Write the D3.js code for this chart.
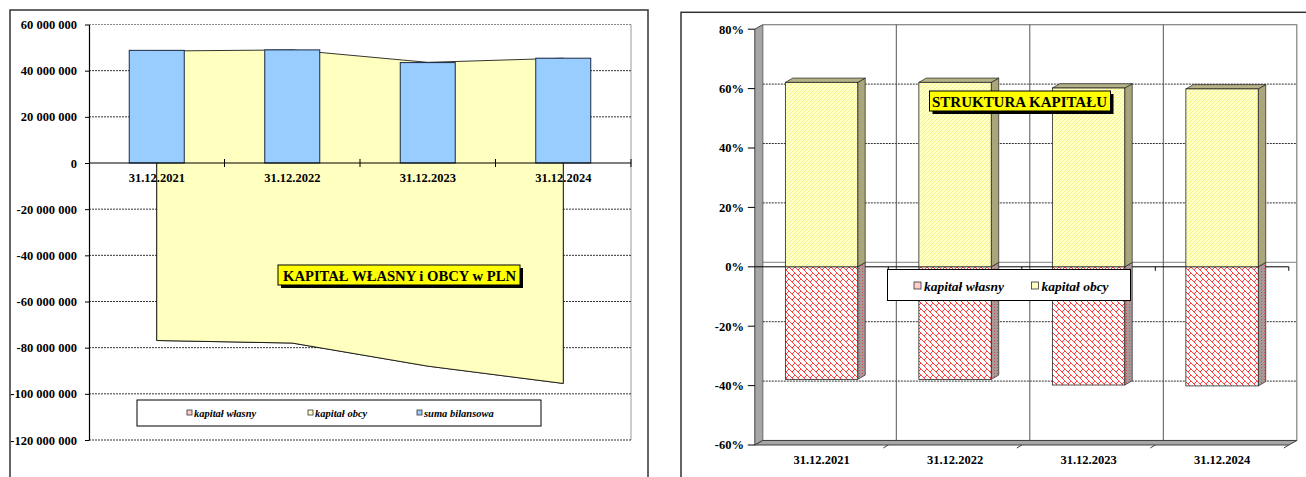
<!DOCTYPE html>
<html lang="pl">
<head>
<meta charset="utf-8">
<title>Kapitał własny i obcy</title>
<script src="https://cdn.jsdelivr.net/npm/d3@7"></script>
<style>
  html, body { margin: 0; padding: 0; background: #fff; }
  svg { display: block; }
  svg text { font-family: "Liberation Serif", "Times New Roman", "DejaVu Serif", serif !important; }
  .lbl { font-weight: bold; fill: #000; }
</style>
</head>
<body>
<svg id="chart" width="1306" height="477"></svg>
<script>
// dane (PLN)
const categories = ["31.12.2021", "31.12.2022", "31.12.2023", "31.12.2024"];
const kapitalWlasny = [-76900000, -78000000, -88000000, -95500000];
const kapitalObcy = [125400000, 127000000, 131600000, 140900000];
const sumaBilansowa = [48800000, 49000000, 43500000, 45400000];
const leftTicks = [60e6, 40e6, 20e6, 0, -20e6, -40e6, -60e6, -80e6, -100e6, -120e6];

// struktura kapitału (%)
const udzialWlasny = [-37.9, -37.9, -39.8, -40.1];
const udzialObcy = [62.1, 62.1, 60.2, 59.9];
const pctTicks = [80, 60, 40, 20, 0, -20, -40, -60];

const SERIF = '"Liberation Serif", "Times New Roman", serif';
const svg = d3.select('#chart');
const fmt = d3.formatLocale({ decimal: ',', thousands: ' ', grouping: [3], currency: ['', ''], minus: '-' }).format(',d');

// wzory wypełnień
const defs = svg.append('defs');
const hatch = defs.append('pattern').attr('id', 'hatchYellow')
  .attr('patternUnits', 'userSpaceOnUse').attr('width', 4).attr('height', 4);
hatch.append('rect').attr('width', 4).attr('height', 4).attr('fill', '#ffffc8');
hatch.append('path').attr('d', 'M-1,1 l2,-2 M0,4 l4,-4 M3,5 l2,-2')
  .attr('stroke', '#f4f488').attr('stroke-width', 1);

const brick = defs.append('pattern').attr('id', 'brickRed')
  .attr('patternUnits', 'userSpaceOnUse').attr('width', 6).attr('height', 6);
brick.append('rect').attr('width', 6).attr('height', 6).attr('fill', '#fff');
brick.append('path').attr('d', 'M0,0 L6,6 M3,3 L0,6 M-1,5 L1,7 M5,-1 L7,1')
  .attr('stroke', '#ff2a2a').attr('stroke-width', 0.9).attr('fill', 'none');

const speckle = defs.append('pattern').attr('id', 'speckle')
  .attr('patternUnits', 'userSpaceOnUse').attr('width', 3).attr('height', 3);
speckle.append('rect').attr('width', 3).attr('height', 3).attr('fill', '#a89898');
speckle.append('rect').attr('x', 1).attr('y', 1).attr('width', 1).attr('height', 1).attr('fill', '#d05050');

// ================= wykres lewy =================
svg.append('rect').attr('x', 10).attr('y', 10).attr('width', 638).attr('height', 480)
  .attr('fill', '#fff').attr('stroke', '#333').attr('stroke-width', 1.5);

const L = { left: 89, right: 631, top: 24.5, bottom: 440 };
const xL = d3.scaleBand().domain(categories).range([L.left, L.right]).paddingInner(0.594).paddingOuter(0.297);
const yL = d3.scaleLinear().domain([-120e6, 60e6]).range([L.bottom, L.top]);
const gL = svg.append('g');

gL.append('line').attr('x1', L.right).attr('x2', L.right).attr('y1', L.top).attr('y2', L.bottom)
  .attr('stroke', '#999');
gL.selectAll('line.grid').data(leftTicks.filter(t => t !== 0)).join('line')
  .attr('class', 'grid')
  .attr('x1', L.left).attr('x2', L.right)
  .attr('y1', d => yL(d)).attr('y2', d => yL(d))
  .attr('stroke', d => d === 60e6 ? '#888' : '#333').attr('stroke-dasharray', '2,1');

// pole skumulowane
const rows = categories.map((c, i) => ({ cat: c, wlasny: kapitalWlasny[i], obcy: kapitalObcy[i] }));
const stacked = d3.stack().keys(['wlasny', 'obcy'])(rows);
const cxL = d => xL(d.data.cat) + xL.bandwidth() / 2;
const area = d3.area().x(cxL).y0(d => yL(d[0])).y1(d => yL(d[1]));
gL.selectAll('path.area').data(stacked).join('path')
  .attr('class', 'area')
  .attr('d', area)
  .attr('fill', (d, i) => i ? '#ffffc0' : '#ffcccc')
  .attr('stroke', '#000').attr('stroke-width', 0.8);

// słupki suma bilansowa
gL.selectAll('rect.bar').data(sumaBilansowa).join('rect')
  .attr('class', 'bar')
  .attr('x', (d, i) => xL(categories[i]))
  .attr('width', xL.bandwidth())
  .attr('y', d => yL(d))
  .attr('height', d => yL(0) - yL(d))
  .attr('fill', '#99ccff').attr('stroke', '#1a2a44').attr('stroke-width', 1);

// osie
const yAxisL = d3.axisLeft(yL).tickValues(leftTicks).tickFormat(fmt).tickSize(4).tickSizeOuter(0).tickPadding(8);
const ya = gL.append('g').attr('transform', `translate(${L.left},0)`).call(yAxisL)
  .attr('font-family', SERIF).attr('font-size', null);
ya.select('.domain').attr('stroke', '#000').attr('stroke-width', 1.2);
ya.selectAll('text').attr('class', 'lbl').attr('font-size', '12.5px');

gL.append('line').attr('x1', L.left).attr('x2', L.right).attr('y1', yL(0)).attr('y2', yL(0))
  .attr('stroke', '#000').attr('stroke-width', 1.2);
gL.selectAll('line.xtick').data(categories).join('line')
  .attr('class', 'xtick')
  .attr('x1', (d, i) => L.left + xL.step() * (i + 1)).attr('x2', (d, i) => L.left + xL.step() * (i + 1))
  .attr('y1', yL(0) - 4).attr('y2', yL(0) + 4).attr('stroke', '#000');
gL.selectAll('text.xl').data(categories).join('text')
  .attr('class', 'lbl xl')
  .attr('x', d => xL(d) + xL.bandwidth() / 2).attr('y', yL(0) + 19)
  .attr('text-anchor', 'middle').attr('font-size', '12.5px').text(d => d);

// legenda lewa
const legL = gL.append('g');
legL.append('rect').attr('x', 137).attr('y', 400).attr('width', 404).attr('height', 26)
  .attr('fill', '#fff').attr('stroke', '#000').attr('stroke-width', 1);
const legLItems = [
  { name: 'kapitał własny', color: '#ffcccc', x: 187 },
  { name: 'kapitał obcy', color: '#ffffc0', x: 308 },
  { name: 'suma bilansowa', color: '#99ccff', x: 417 }
];
legL.selectAll('rect.sw').data(legLItems).join('rect')
  .attr('class', 'sw').attr('x', d => d.x).attr('y', 410).attr('width', 5).attr('height', 5)
  .attr('fill', d => d.color).attr('stroke', '#333').attr('stroke-width', 0.8);
legL.selectAll('text').data(legLItems).join('text')
  .attr('x', d => d.x + 7).attr('y', 417)
  .attr('font-weight', 'bold').attr('font-style', 'italic').attr('font-size', '10.5px')
  .text(d => d.name);

// tytuł lewy
const tL = gL.append('g');
tL.append('rect').attr('x', 281).attr('y', 268).attr('width', 242).attr('height', 20).attr('fill', '#000');
tL.append('rect').attr('x', 278).attr('y', 265).attr('width', 242).attr('height', 20)
  .attr('fill', '#ffff00').attr('stroke', '#000').attr('stroke-width', 1);
tL.append('text').attr('x', 283).attr('y', 280.5)
  .attr('font-weight', 'bold').attr('font-size', '14.5px')
  .attr('textLength', 233).attr('lengthAdjust', 'spacingAndGlyphs')
  .text('KAPITAŁ WŁASNY i OBCY w PLN');

// ================= wykres prawy =================
svg.append('rect').attr('x', 681).attr('y', 12.3).attr('width', 700).attr('height', 500)
  .attr('fill', '#fff').attr('stroke', '#333').attr('stroke-width', 1.5);

const R = { x0: 754.8, x1: 1288.8, dx: 8, dy: -4.5 };
const xR = d3.scaleBand().domain(categories).range([R.x0, R.x1]).paddingInner(0.458).paddingOuter(0.229);
const yR = d3.scaleLinear().domain([-60, 80]).range([445, 29.2]);
const gR = svg.append('g');
const pts = a => a.map(p => p.join(',')).join(' ');

// ściany
gR.append('polygon')
  .attr('points', pts([[R.x0, yR(80)], [R.x0 + R.dx, yR(80) + R.dy], [R.x0 + R.dx, yR(-60) + R.dy], [R.x0, yR(-60)]]))
  .attr('fill', '#a6a6a6').attr('stroke', '#404040').attr('stroke-width', 1);
gR.append('rect').attr('x', R.x0 + R.dx).attr('y', yR(80) + R.dy)
  .attr('width', R.x1 - R.x0).attr('height', yR(-60) - yR(80))
  .attr('fill', '#fff').attr('stroke', '#808080').attr('stroke-width', 1.2);
gR.selectAll('line.grid').data(pctTicks.filter(t => t !== 80 && t !== -60 && t !== 0)).join('line')
  .attr('class', 'grid')
  .attr('x1', R.x0 + R.dx).attr('x2', R.x1 + R.dx)
  .attr('y1', d => yR(d) + R.dy).attr('y2', d => yR(d) + R.dy)
  .attr('stroke', '#333').attr('stroke-dasharray', '2,1');
gR.append('line').attr('x1', R.x0 + R.dx).attr('x2', R.x1 + R.dx)
  .attr('y1', yR(0) + R.dy).attr('y2', yR(0) + R.dy).attr('stroke', '#808080');
gR.selectAll('line.vsep').data(categories.slice(1)).join('line')
  .attr('class', 'vsep')
  .attr('x1', (d, i) => R.x0 + xR.step() * (i + 1) + R.dx).attr('x2', (d, i) => R.x0 + xR.step() * (i + 1) + R.dx)
  .attr('y1', yR(80) + R.dy).attr('y2', yR(-60) + R.dy)
  .attr('stroke', '#555').attr('stroke-width', 1);
gR.append('polygon')
  .attr('points', pts([[R.x0, yR(-60)], [R.x1, yR(-60)], [R.x1 + R.dx, yR(-60) + R.dy], [R.x0 + R.dx, yR(-60) + R.dy]]))
  .attr('fill', '#a6a6a6').attr('stroke', '#404040').attr('stroke-width', 1);
gR.selectAll('line.ftick').data(categories).join('line')
  .attr('class', 'ftick')
  .attr('x1', (d, i) => R.x0 + xR.step() * (i + 1)).attr('x2', (d, i) => R.x0 + xR.step() * (i + 1) - 5)
  .attr('y1', yR(-60)).attr('y2', yR(-60) + 3).attr('stroke', '#404040');

// oś zero
gR.append('line').attr('x1', R.x0).attr('x2', R.x1).attr('y1', yR(0)).attr('y2', yR(0))
  .attr('stroke', '#000').attr('stroke-width', 1);
gR.selectAll('line.ztick').data(categories).join('line')
  .attr('class', 'ztick')
  .attr('x1', (d, i) => R.x0 + xR.step() * (i + 1)).attr('x2', (d, i) => R.x0 + xR.step() * (i + 1))
  .attr('y1', yR(0)).attr('y2', yR(0) + 4).attr('stroke', '#000');

// słupki 3D
const bdx = 7.5, bdy = -4.3;
function box(g, x0, x1, yTop, yBot, front, side, top) {
  g.append('polygon')
    .attr('points', pts([[x1, yTop], [x1 + bdx, yTop + bdy], [x1 + bdx, yBot + bdy], [x1, yBot]]))
    .attr('fill', side).attr('stroke', '#222').attr('stroke-width', 0.7);
  if (top) {
    g.append('polygon')
      .attr('points', pts([[x0, yTop], [x0 + bdx, yTop + bdy], [x1 + bdx, yTop + bdy], [x1, yTop]]))
      .attr('fill', top).attr('stroke', '#222').attr('stroke-width', 0.7);
  }
  g.append('rect').attr('x', x0).attr('y', yTop).attr('width', x1 - x0).attr('height', yBot - yTop)
    .attr('fill', front).attr('stroke', '#222').attr('stroke-width', 0.8);
}
categories.forEach((c, i) => {
  const x0 = xR(c), x1 = xR(c) + xR.bandwidth();
  box(gR, x0, x1, yR(0), yR(udzialWlasny[i]), 'url(#brickRed)', 'url(#speckle)', null);
  box(gR, x0, x1, yR(udzialObcy[i]), yR(0), 'url(#hatchYellow)', '#a8a67a', '#b4b286');
});

// oś Y prawa
gR.selectAll('line.ytick').data(pctTicks).join('line')
  .attr('class', 'ytick')
  .attr('x1', R.x0 - 7).attr('x2', R.x0).attr('y1', d => yR(d)).attr('y2', d => yR(d))
  .attr('stroke', '#000');
gR.selectAll('text.yl').data(pctTicks).join('text')
  .attr('class', 'lbl yl')
  .attr('x', 744).attr('y', d => yR(d)).attr('dy', '0.35em')
  .attr('text-anchor', 'end').attr('font-size', '12.5px')
  .text(d => d + '%');
gR.selectAll('text.xl').data(categories).join('text')
  .attr('class', 'lbl xl')
  .attr('x', d => xR(d) + xR.bandwidth() / 2).attr('y', 464)
  .attr('text-anchor', 'middle').attr('font-size', '12.5px').text(d => d);

// legenda prawa
const legR = gR.append('g');
legR.append('rect').attr('x', 887.5).attr('y', 269.5).attr('width', 243).attr('height', 31)
  .attr('fill', '#fff').attr('stroke', '#000').attr('stroke-width', 1);
const legRItems = [
  { name: 'kapitał własny', fill: '#ffcccc', x: 914 },
  { name: 'kapitał obcy', fill: '#ffffc0', x: 1031.5 }
];
legR.selectAll('rect.sw').data(legRItems).join('rect')
  .attr('class', 'sw').attr('x', d => d.x).attr('y', 282).attr('width', 7).attr('height', 7)
  .attr('fill', d => d.fill).attr('stroke', '#333').attr('stroke-width', 0.8);
legR.selectAll('text').data(legRItems).join('text')
  .attr('x', d => d.x + 10).attr('y', 290.5)
  .attr('font-weight', 'bold').attr('font-style', 'italic').attr('font-size', '13.5px')
  .text(d => d.name);

// tytuł prawy
const tR = gR.append('g');
tR.append('rect').attr('x', 932.5).attr('y', 94).attr('width', 181).attr('height', 20).attr('fill', '#000');
tR.append('rect').attr('x', 929.5).attr('y', 91).attr('width', 181).attr('height', 20)
  .attr('fill', '#ffff00').attr('stroke', '#000').attr('stroke-width', 1);
tR.append('text').attr('x', 932).attr('y', 106.5)
  .attr('font-weight', 'bold').attr('font-size', '15px')
  .attr('textLength', 175).attr('lengthAdjust', 'spacingAndGlyphs')
  .text('STRUKTURA KAPITAŁU');
</script>
</body>
</html>
